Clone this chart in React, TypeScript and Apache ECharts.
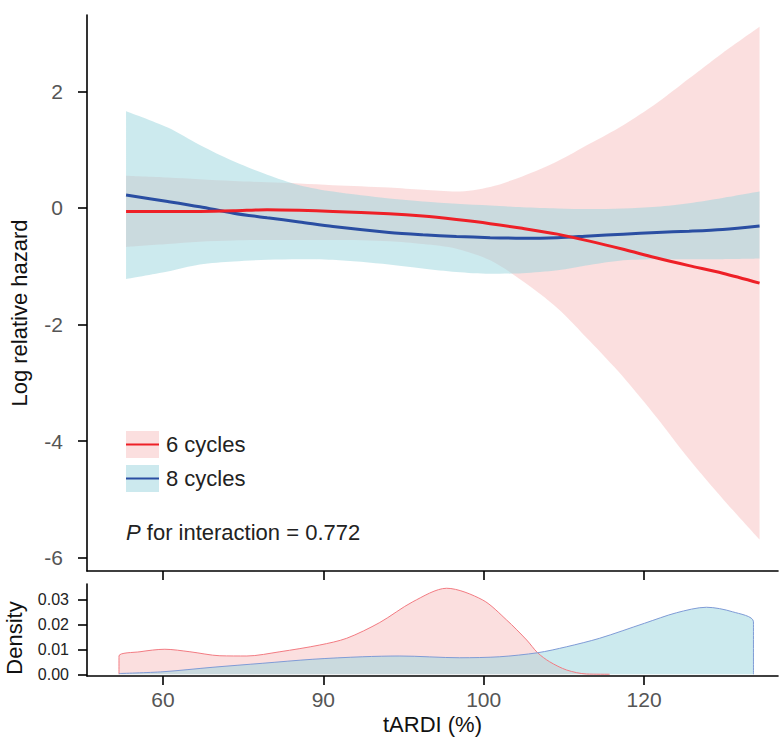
import React, { useEffect, useRef } from "react";
import * as echarts from "echarts";

// x axis is drawn in evenly spaced tick units (tick positions 1..4 carry the labels below)
const xTickPos = [1, 2, 3, 4];
const xTickLabels = ["60", "90", "100", "120"];
const hazardTicks = [-6, -4, -2, 0, 2];
const densityTicks = [0, 0.01, 0.02, 0.03];

const curveX = [0.77, 1.03, 1.23, 1.44, 1.65, 1.85, 2.06, 2.41, 2.62, 2.83, 3.04, 3.24, 3.46, 3.66, 3.87, 4.08, 4.28, 4.49, 4.72];

const fit6 = [-0.06, -0.06, -0.06, -0.05, -0.03, -0.04, -0.06, -0.1, -0.14, -0.2, -0.27, -0.35, -0.45, -0.57, -0.71, -0.86, -0.99, -1.12, -1.29];
const lower6 = [-0.67, -0.62, -0.58, -0.56, -0.55, -0.55, -0.55, -0.57, -0.62, -0.7, -0.9, -1.25, -1.72, -2.28, -2.9, -3.6, -4.31, -4.99, -5.69];
const upper6 = [0.55, 0.52, 0.49, 0.46, 0.44, 0.42, 0.39, 0.35, 0.31, 0.28, 0.36, 0.54, 0.8, 1.1, 1.42, 1.8, 2.22, 2.66, 3.11];

const fit8 = [0.22, 0.11, 0.02, -0.09, -0.17, -0.24, -0.32, -0.42, -0.46, -0.49, -0.51, -0.52, -0.51, -0.48, -0.45, -0.42, -0.4, -0.37, -0.31];
const lower8 = [-1.22, -1.09, -0.97, -0.92, -0.89, -0.88, -0.89, -0.97, -1.04, -1.1, -1.13, -1.12, -1.07, -0.98, -0.9, -0.88, -0.88, -0.88, -0.87];
const upper8 = [1.66, 1.38, 1.08, 0.8, 0.57, 0.39, 0.28, 0.16, 0.11, 0.07, 0.04, 0.01, -0.01, -0.02, -0.01, 0.02, 0.08, 0.17, 0.28];

const dens6X = [0.726, 0.726, 0.857, 1.012, 1.168, 1.355, 1.523, 1.729, 1.978, 2.146, 2.352, 2.558, 2.769, 2.994, 3.143, 3.268, 3.336, 3.411, 3.517, 3.642, 3.785];
const dens6Y = [0, 0.0073, 0.009, 0.01, 0.009, 0.0074, 0.0073, 0.009, 0.0117, 0.0144, 0.0207, 0.029, 0.0344, 0.0297, 0.0217, 0.0137, 0.0086, 0.005, 0.0017, 0.0001, 0.0];

const dens8X = [0.726, 1.0, 1.312, 1.623, 1.935, 2.246, 2.477, 2.85, 3.1, 3.336, 3.517, 3.723, 4.003, 4.202, 4.389, 4.551, 4.682, 4.682];
const dens8Y = [0.0003, 0.001, 0.0028, 0.0044, 0.006, 0.007, 0.0073, 0.0066, 0.007, 0.0086, 0.011, 0.0144, 0.0204, 0.0246, 0.0268, 0.025, 0.021, 0];

const seriesNames = ["6 cycles", "8 cycles"];

const FONT = "'Liberation Sans', Arial, Helvetica, sans-serif";
const RED = "#ee2027";
const BLUE = "#2a4ea2";
const PINK_FILL = "rgba(242,150,150,0.3)";
const CYAN_FILL = "rgba(153,213,221,0.5)";

const pairs = (xs: number[], ys: number[]) => xs.map((x, i) => [x, ys[i]]);
// for stacked band series the value (y) column is put first so that the y dimension is stacked
const yxPairs = (xs: number[], ys: number[]) => xs.map((x, i) => [ys[i], x]);
const yxDiffs = (xs: number[], hi: number[], lo: number[]) => xs.map((x, i) => [+(hi[i] - lo[i]).toFixed(4), x]);

export default function App() {
  const ref = useRef<HTMLDivElement>(null);
  useEffect(() => {
    if (!ref.current) return;
    const chart = echarts.init(ref.current, undefined, { renderer: "svg" });
    const axisLine = { show: true, onZero: false, lineStyle: { color: "#000", width: 1.6 } };
    const tick = { show: true, length: 9, inside: false, lineStyle: { color: "#000", width: 1.6 } };
    const xCommon = {
      type: "value",
      min: 0.5265,
      max: 4.835,
      splitLine: { show: false },
      axisLine,
    };
    const bandLine = { opacity: 0, width: 0 };
    const bandSeries = (name: string, stack: string, data: number[][], area: string | null) => ({
      type: "line",
      name,
      data,
      encode: { x: 1, y: 0 },
      stack,
      stackStrategy: "all",
      symbol: "none",
      smooth: 0.3,
      lineStyle: bandLine,
      areaStyle: area ? { color: area, opacity: 1 } : undefined,
      silent: true,
    });
    chart.setOption({
      animation: false,
      backgroundColor: "#fff",
      grid: [
        { left: 87, top: 15, width: 691, height: 556 },
        { left: 87, top: 584, width: 691, height: 92 },
      ],
      xAxis: [
        {
          ...xCommon,
          gridIndex: 0,
          axisTick: { ...tick, customValues: xTickPos },
          axisLabel: { show: false },
        },
        {
          ...xCommon,
          gridIndex: 1,
          axisTick: { ...tick, customValues: xTickPos },
          axisLabel: {
            customValues: xTickPos,
            formatter: (v: number) => xTickLabels[xTickPos.indexOf(v)] ?? "",
            fontSize: 21,
            color: "#555",
            fontFamily: FONT,
            margin: 13,
          },
          name: "tARDI (%)",
          nameLocation: "middle",
          nameGap: 37,
          nameTextStyle: { fontSize: 22, color: "#111", fontFamily: FONT },
        },
      ],
      yAxis: [
        {
          type: "value",
          gridIndex: 0,
          min: -6.23,
          max: 3.31,
          splitLine: { show: false },
          axisLine,
          axisTick: { ...tick, customValues: hazardTicks },
          axisLabel: {
            customValues: hazardTicks,
            fontSize: 21,
            color: "#555",
            fontFamily: FONT,
            margin: 24,
          },
        },
        {
          type: "value",
          gridIndex: 1,
          min: -0.0007,
          max: 0.0361,
          splitLine: { show: false },
          axisLine,
          axisTick: { ...tick, customValues: densityTicks },
          axisLabel: {
            customValues: densityTicks,
            formatter: (v: number) => v.toFixed(2),
            fontSize: 16,
            color: "#222",
            fontFamily: FONT,
            margin: 18,
          },
        },
      ],
      series: [
        bandSeries("6 lower", "band6", yxPairs(curveX, lower6), null),
        bandSeries("6 band", "band6", yxDiffs(curveX, upper6, lower6), PINK_FILL),
        bandSeries("8 lower", "band8", yxPairs(curveX, lower8), null),
        bandSeries("8 band", "band8", yxDiffs(curveX, upper8, lower8), CYAN_FILL),
        {
          type: "line",
          name: seriesNames[1],
          data: pairs(curveX, fit8),
          symbol: "none",
          smooth: 0.3,
          lineStyle: { color: BLUE, width: 3 },
        },
        {
          type: "line",
          name: seriesNames[0],
          data: pairs(curveX, fit6),
          symbol: "none",
          smooth: 0.3,
          lineStyle: { color: RED, width: 3 },
        },
        {
          type: "line",
          name: "6 density",
          xAxisIndex: 1,
          yAxisIndex: 1,
          data: pairs(dens6X, dens6Y),
          symbol: "none",
          smooth: 0.3,
          lineStyle: { color: "#f27b82", width: 1 },
          areaStyle: { color: PINK_FILL, opacity: 1 },
        },
        {
          type: "line",
          name: "8 density",
          xAxisIndex: 1,
          yAxisIndex: 1,
          data: pairs(dens8X, dens8Y),
          symbol: "none",
          smooth: 0.3,
          lineStyle: { color: "#7f9bd6", width: 1 },
          areaStyle: { color: CYAN_FILL, opacity: 1 },
        },
      ],
      graphic: [
        {
          type: "text",
          x: 19,
          y: 313,
          rotation: Math.PI / 2,
          style: { text: "Log relative hazard", fontSize: 22, fontFamily: FONT, fill: "#111", align: "center", verticalAlign: "middle" },
        },
        {
          type: "text",
          x: 14,
          y: 638,
          rotation: Math.PI / 2,
          style: { text: "Density", fontSize: 22, fontFamily: FONT, fill: "#111", align: "center", verticalAlign: "middle" },
        },
        { type: "rect", shape: { x: 126, y: 431, width: 33, height: 27 }, style: { fill: "#fbdfdf" } },
        { type: "line", shape: { x1: 126, y1: 444.5, x2: 159, y2: 444.5 }, style: { stroke: RED, lineWidth: 2 } },
        { type: "rect", shape: { x: 126, y: 465, width: 33, height: 27 }, style: { fill: "#cce9ee" } },
        { type: "line", shape: { x1: 126, y1: 478.5, x2: 159, y2: 478.5 }, style: { stroke: BLUE, lineWidth: 2 } },
        {
          type: "text",
          x: 166,
          y: 444,
          style: { text: seriesNames[0], fontSize: 22, fontFamily: FONT, fill: "#222", align: "left", verticalAlign: "middle" },
        },
        {
          type: "text",
          x: 166,
          y: 478,
          style: { text: seriesNames[1], fontSize: 22, fontFamily: FONT, fill: "#222", align: "left", verticalAlign: "middle" },
        },
        {
          type: "text",
          x: 126,
          y: 532,
          style: {
            text: "{i|P} for interaction = 0.772",
            fontSize: 22,
            fontFamily: FONT,
            fill: "#222",
            align: "left",
            verticalAlign: "middle",
            rich: { i: { fontStyle: "italic", fontSize: 22, fontFamily: FONT, fill: "#222" } },
          },
        },
      ],
    });
    return () => chart.dispose();
  }, []);
  return <div ref={ref} style={{ position: "fixed", left: 0, top: 0, width: 779, height: 743 }} />;
}
